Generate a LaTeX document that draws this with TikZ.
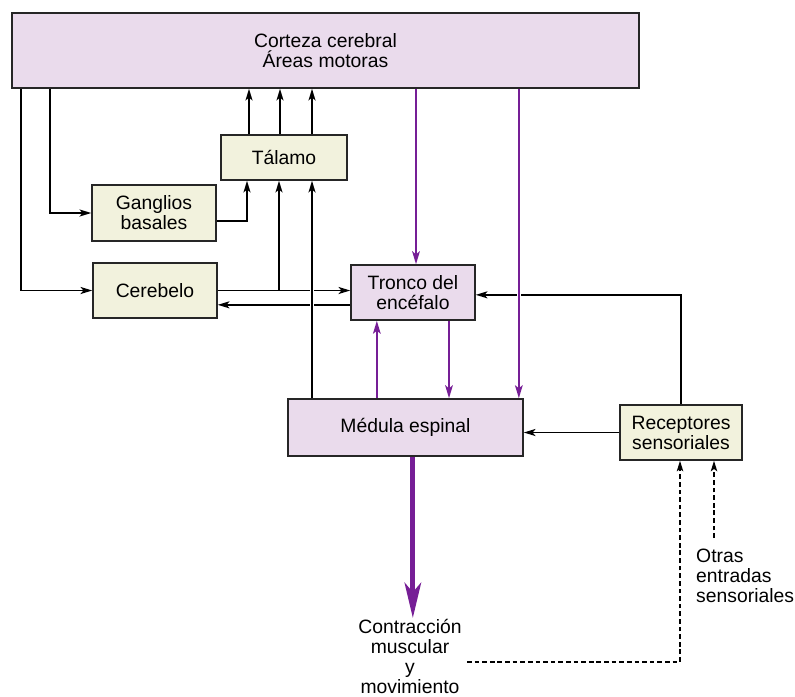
\documentclass[tikz,border=0pt]{standalone}
\usepackage{fontspec}
\setmainfont{Liberation Sans}
\usetikzlibrary{arrows.meta}
\definecolor{lila}{RGB}{234,219,236}
\definecolor{crema}{RGB}{242,242,221}
\definecolor{morado}{RGB}{118,30,150}
\tikzset{
  caja/.style={draw=black!85,line width=1.3pt,align=center,inner sep=0pt},
  flecha/.style={line width=1.4pt,-{Stealth[length=10pt,width=6pt,inset=2.5pt]}},
  flechamorada/.style={morado,line width=1.8pt,-{Stealth[length=11pt,width=6.5pt,inset=2.5pt]}},
  gruesa/.style={morado,line width=4.5pt,-{Stealth[length=30pt,width=14pt,inset=8pt]}},
  punteada/.style={line width=1.3pt,dash pattern=on 4pt off 2.5pt,-{Stealth[length=9pt,width=5.5pt,inset=2pt]}},
  hueco/.style={preaction={draw=white,line width=4pt,-,shorten >=12pt,shorten <=12pt}}
}

\begin{document}
\begin{tikzpicture}[x=0.03cm,y=-0.03cm,every node/.style={font=\fontsize{16.5}{17}\selectfont}]
    \useasboundingbox (0,0) rectangle (795,696);
    % cajas
    \node[caja,fill=lila,minimum width=18.81cm,minimum height=2.25cm] (cort) at (325.5,50.5) {Corteza cerebral\\Áreas motoras};
    \node[caja,fill=crema,minimum width=3.78cm,minimum height=1.35cm] (tal) at (284,157.5) {Tálamo};
    \node[caja,fill=crema,minimum width=3.72cm,minimum height=1.68cm] (gang) at (154,213) {Ganglios\\basales};
    \node[caja,fill=crema,minimum width=3.72cm,minimum height=1.65cm] (cer) at (155,290.5) {Cerebelo};
    \node[caja,fill=lila,minimum width=3.72cm,minimum height=1.65cm] (tron) at (413,292.5) {Tronco del\\encéfalo};
    \node[caja,fill=lila,minimum width=7.05cm,minimum height=1.71cm] (med) at (405.5,427.5) {Médula espinal};
    \node[caja,fill=crema,minimum width=3.66cm,minimum height=1.65cm] (rec) at (681,432.5) {Receptores\\sensoriales};
    \node[align=center,inner sep=1pt,anchor=north] (cont) at (410,618) {Contracción\\muscular\\y\\movimiento};
    \node[align=left,inner sep=0pt,anchor=north west] (otras) at (696,549) {Otras\\entradas\\sensoriales};

    % puntos auxiliares
    \coordinate (t1) at ([xshift=-1.11cm]tal.south);
    \coordinate (t2) at ([xshift=-0.15cm]tal.south);
    \coordinate (t3) at ([xshift=0.84cm]tal.south);
    \coordinate (c1) at ([yshift=-0.37cm]tron.west);
    \coordinate (v1) at ([xshift=0.09cm]tron.north);
    \coordinate (v2) at ([xshift=3.4cm]med.north);
    \coordinate (v3) at ([xshift=-0.86cm]med.north);
    \coordinate (v4) at ([xshift=1.08cm]tron.south);
    \coordinate (v5) at ([xshift=0.22cm]med.south);
    \coordinate (d1) at (467,662);
    \coordinate (o1) at (714,538);

    % conexiones negras
    \foreach \dx in {-1.05,-0.12,0.84}
      \draw[flecha] ([xshift=\dx cm]tal.north) -- ([xshift=\dx cm]tal.north |- cort.south);
    \draw[flecha] ([xshift=0.3cm]cort.south west) |- (cer.west);
    \draw[flecha] ([xshift=1.17cm]cort.south west) |- (gang.west);
    \draw[flecha] ([yshift=-0.24cm]gang.east) -| (t1);
    \draw[flecha] (cer.east) -- (cer.east -| tron.west);
    \draw[flecha] (c1) -- (c1 -| cer.east);
    \draw[flecha] (cer.east -| t2) -- (t2);
    \draw[flecha,hueco] (t3 |- med.north) -- (t3);
    \draw[flecha] (rec.north) |- ([yshift=-0.07cm]tron.east);
    \draw[flecha] (rec.west) -- (rec.west -| med.east);

    % conexiones moradas
    \draw[flechamorada] (v1 |- cort.south) -- (v1);
    \draw[flechamorada,hueco] (v2 |- cort.south) -- (v2);
    \draw[flechamorada] (v3) -- (v3 |- tron.south);
    \draw[flechamorada] (v4) -- (v4 |- med.north);
    \draw[gruesa] (v5) -- (v5 |- cont.north);

    % retroalimentacion
    \draw[punteada] (d1) -| ([xshift=-0.03cm]rec.south);
    \draw[punteada] (o1) -- (o1 |- rec.south);
  \end{tikzpicture}
\end{document}
